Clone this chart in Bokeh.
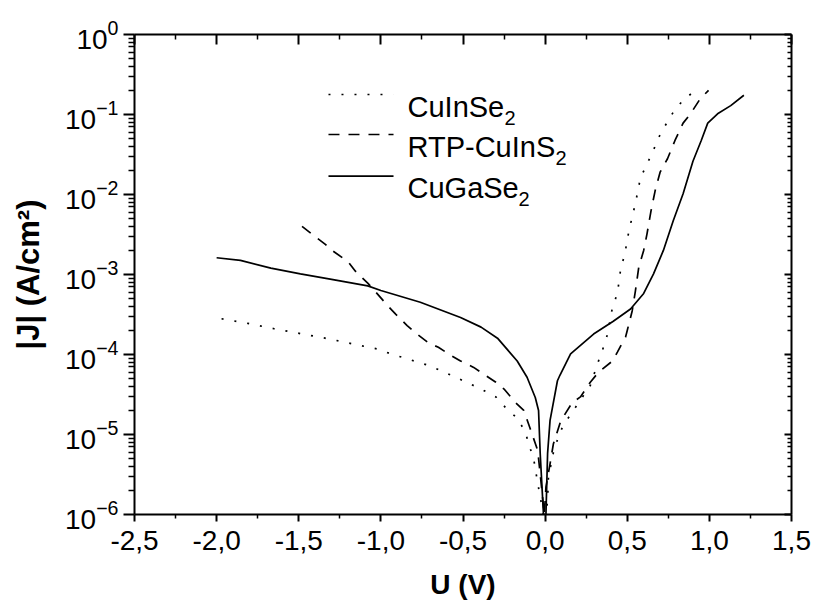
from bokeh.plotting import figure
from bokeh.models import LinearAxis, LogAxis, FixedTicker, CustomJSTickFormatter, Label, LogTickFormatter
from bokeh.embed import file_html
from bokeh.resources import INLINE

# ---------------- data ----------------
u_cgs = [-2.00, -1.855, -1.67, -1.49, -1.30, -1.08, -1.00, -0.76, -0.515, -0.39, -0.29,
         -0.17, -0.11, -0.06, -0.04, -0.03, -0.01, 0.005, 0.015, 0.03, 0.075, 0.09, 0.155,
         0.295, 0.415, 0.52, 0.60, 0.66, 0.72, 0.78, 0.84, 0.90, 0.95, 0.99, 1.05, 1.13, 1.21]
j_cgs = [1.62e-3, 1.5e-3, 1.2e-3, 1.02e-3, 8.7e-4, 7.2e-4, 6.3e-4, 4.5e-4, 2.9e-4, 2.2e-4, 1.6e-4,
         8.3e-5, 5.2e-5, 2.9e-5, 2.0e-5, 5.8e-6, 1.0e-6, 1.0e-6, 5.8e-6, 1.5e-5, 4.7e-5, 5.5e-5, 1.02e-4,
         1.8e-4, 2.6e-4, 3.7e-4, 5.8e-4, 1.02e-3, 2.0e-3, 4.7e-3, 1.02e-2, 2.6e-2, 4.7e-2, 7.8e-2, 0.102, 0.129, 0.174]

u_cis = [-1.97, -1.81, -1.65, -1.34, -1.02, -0.94, -0.70, -0.545, -0.39, -0.30, -0.235, -0.17,
         -0.12, -0.10, -0.07, -0.045, -0.03, -0.01, 0.005, 0.015, 0.02, 0.05, 0.08, 0.11, 0.165,
         0.275, 0.325, 0.355, 0.38, 0.41, 0.44, 0.46, 0.485, 0.51, 0.55, 0.58, 0.62, 0.655, 0.69,
         0.73, 0.78, 0.84, 0.915, 0.93]
j_cis = [2.8e-4, 2.45e-4, 2.1e-4, 1.6e-4, 1.17e-4, 1.02e-4, 7.2e-5, 5.2e-5, 3.7e-5, 2.95e-5, 2.1e-5, 1.6e-5,
         1.07e-5, 7.6e-6, 5.0e-6, 2.45e-6, 1.66e-6, 1.0e-6, 1.0e-6, 1.5e-6, 2.9e-6, 5.9e-6, 9.3e-6, 1.3e-5, 1.9e-5,
         4.1e-5, 8.3e-5, 1.23e-4, 1.8e-4, 3.9e-4, 5.8e-4, 1.17e-3, 1.8e-3, 3.5e-3, 7.8e-3, 1.6e-2, 2.4e-2, 3.4e-2, 5.1e-2,
         7.2e-2, 0.107, 0.151, 0.20, 0.20]

u_rtp = [-1.48, -1.42, -1.34, -1.29, -1.20, -1.155, -1.08, -1.03, -0.96, -0.91, -0.84, -0.78, -0.71,
         -0.65, -0.575, -0.515, -0.435, -0.38, -0.30, -0.25, -0.18, -0.13, -0.09, -0.045, -0.03, -0.015,
         -0.005, 0.005, 0.03, 0.05, 0.095, 0.165, 0.215, 0.275, 0.325, 0.41, 0.44, 0.49, 0.50, 0.53,
         0.55, 0.57, 0.60, 0.62, 0.645, 0.67, 0.70, 0.745, 0.79, 0.84, 0.885, 0.945, 0.995]
j_rtp = [4.0e-3, 3.2e-3, 2.4e-3, 1.95e-3, 1.45e-3, 1.1e-3, 7.8e-4, 6.0e-4, 4.1e-4, 3.2e-4, 2.3e-4, 1.8e-4, 1.4e-4,
         1.23e-4, 9.8e-5, 8.3e-5, 6.9e-5, 5.8e-5, 4.5e-5, 3.7e-5, 2.5e-5, 2.0e-5, 1.17e-5, 6.3e-6, 3.2e-6, 1.6e-6,
         1.0e-6, 2.2e-6, 4.3e-6, 7.6e-6, 1.48e-5, 2.5e-5, 2.95e-5, 4.5e-5, 6.0e-5, 8.3e-5, 1.07e-4, 1.66e-4, 2.0e-4, 3.5e-4,
         6.3e-4, 1.23e-3, 2.0e-3, 3.2e-3, 6.3e-3, 1.12e-2, 1.9e-2, 2.8e-2, 4.7e-2, 7.8e-2, 0.102, 0.158, 0.20]

series_names = ["CuInSe", "RTP-CuInS", "CuGaSe"]
series_sub = ["2", "2", "2"]
x_ticks = [-2.5, -2.0, -1.5, -1.0, -0.5, 0.0, 0.5, 1.0, 1.5]
x_minor = [-2.25, -1.75, -1.25, -0.75, -0.25, 0.25, 0.75, 1.25]
y_exponents = [0, -1, -2, -3, -4, -5, -6]

FONT = "Liberation Sans"

p = figure(width=813, height=605, x_range=(-2.5, 1.5), y_range=(1e-6, 1.0),
           y_axis_type="log", output_backend="svg", toolbar_location=None,
           min_border_left=134, min_border_right=22, min_border_top=34, min_border_bottom=91)
p.outline_line_color = None
p.grid.visible = False
p.background_fill_color = "white"
p.border_fill_color = "white"

xt = FixedTicker(ticks=x_ticks, minor_ticks=x_minor)
yt = FixedTicker(ticks=[10.0 ** e for e in y_exponents],
                 minor_ticks=[m * 10.0 ** e for e in range(-6, 0) for m in range(2, 10)])
empty = CustomJSTickFormatter(code="return ''")
comma = CustomJSTickFormatter(code="return tick.toFixed(1).replace('.', ',')")

xa = p.xaxis[0]
xa.ticker = xt
xa.formatter = comma
xa.major_tick_out = 7
xa.major_tick_in = 0
xa.minor_tick_out = 4
xa.minor_tick_in = 0
xa.major_label_standoff = 9
xa.major_label_text_font = FONT
xa.major_label_text_font_size = "28px"
xa.major_label_text_color = "black"
xa.axis_label = "U (V)"
xa.axis_label_text_font = FONT
xa.axis_label_text_font_size = "28px"
xa.axis_label_text_font_style = "bold"
xa.axis_label_text_color = "black"
xa.axis_label_standoff = 16

ya = p.yaxis[0]
ya.ticker = yt
ya.formatter = LogTickFormatter()
ya.major_tick_out = 11
ya.major_tick_in = 0
ya.minor_tick_out = 6
ya.minor_tick_in = 0
ya.major_label_standoff = 5
ya.major_label_text_font = FONT
ya.major_label_text_font_size = "28px"
ya.major_label_text_color = "black"
ya.axis_label = "|J| (A/cm²)"
ya.axis_label_text_font = FONT
ya.axis_label_text_font_size = "31px"
ya.axis_label_text_font_style = "bold"
ya.axis_label_text_color = "black"
ya.axis_label_standoff = 16

for ax in (xa, ya):
    ax.axis_line_width = 2
    ax.major_tick_line_width = 2
    ax.minor_tick_line_width = 1.5
    ax.axis_line_color = "black"

top = LinearAxis(ticker=xt, formatter=empty, major_tick_in=10, major_tick_out=0,
                 minor_tick_in=5, minor_tick_out=0, axis_line_width=2,
                 major_tick_line_width=2, minor_tick_line_width=1.5)
right = LogAxis(ticker=yt, formatter=empty, major_tick_in=7, major_tick_out=0,
                minor_tick_in=4, minor_tick_out=0, axis_line_width=2,
                major_tick_line_width=2, minor_tick_line_width=1.5)
p.add_layout(top, "above")
p.add_layout(right, "right")

# curves
LW = 1.7
p.line(u_cis, j_cis, line_color="black", line_width=LW, line_dash="2 11")
p.line(u_rtp, j_rtp, line_color="black", line_width=LW, line_dash="11 9")
p.line(u_cgs, j_cgs, line_color="black", line_width=LW)

# legend (layout constants)
LEG_X0, LEG_X1 = -1.319, -0.923
LEG_Y = [10 ** -0.75, 10 ** -1.25, 10 ** -1.77]
dashes = ["2 11", "11 9", "solid"]
sub_dx = [97, 148, 111]
for i in range(3):
    p.line([LEG_X0, LEG_X1], [LEG_Y[i], LEG_Y[i]], line_color="black", line_width=LW,
           line_dash=dashes[i])
    p.add_layout(Label(x=LEG_X1, y=LEG_Y[i], text=series_names[i], text_align="left",
                       text_baseline="alphabetic", x_offset=14, y_offset=-12,
                       text_font=FONT, text_font_size="29px", text_color="black"))
    p.add_layout(Label(x=LEG_X1, y=LEG_Y[i], text=series_sub[i], text_align="left",
                       text_baseline="alphabetic", x_offset=14 + sub_dx[i], y_offset=-23,
                       text_font=FONT, text_font_size="20px", text_color="black"))

open("out.html", "w").write(file_html(p, INLINE))
